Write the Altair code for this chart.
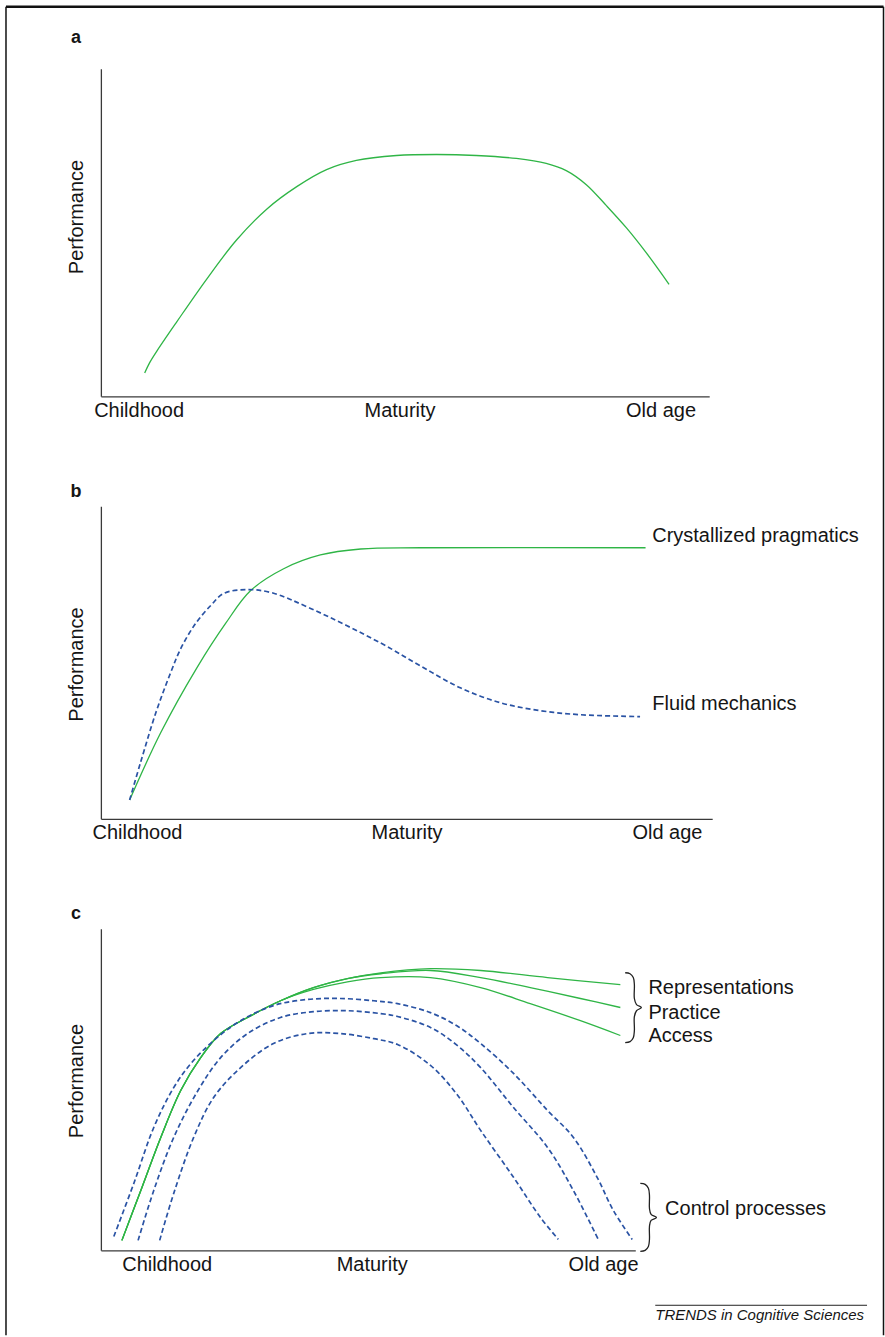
import altair as alt
import pandas as pd

FONT = "Liberation Sans"
GREEN = "#2fb546"
BLUE = "#2a53a4"
INK = "#151515"

# ---------------- Panel a ----------------
a_age = [7.2, 8.0, 9.2, 12.5, 17.4, 22.3, 27.3, 32.2, 37.1, 42.0, 48.6, 55.2, 61.7,
         68.3, 73.2, 76.5, 79.8, 83.1, 86.4, 89.7, 93.4]
a_perf = [7.1, 10.2, 13.8, 22.8, 35.8, 47.7, 57.2, 64.0, 69.2, 72.0, 73.5, 73.8, 73.5,
          72.6, 71.1, 68.9, 64.6, 58.2, 51.4, 43.7, 34.2]
a_ticks = [6.2, 49.1, 92.0]

# ---------------- Panel b ----------------
b_crys_age = [4.7, 9.8, 15.7, 20.4, 24.5, 29.9, 35.9, 42.5, 52.3, 89.1]
b_crys_perf = [6.0, 27.6, 48.3, 62.5, 73.0, 80.0, 84.4, 86.3, 86.7, 86.7]
b_fluid_age = [4.7, 6.5, 9.0, 11.4, 13.1, 15.5, 18.0, 20.1, 23.7, 27.8, 34.3,
               45.8, 52.3, 58.8, 65.4, 71.9, 78.4, 88.2]
b_fluid_perf = [6.0, 18.1, 34.0, 46.7, 54.6, 62.5, 68.3, 72.1, 73.3, 72.4, 67.3,
                56.2, 48.9, 41.9, 37.1, 34.6, 33.3, 32.7]
b_ticks = [5.9, 50.0, 92.6]
b_label_text = ["Crystallized pragmatics", "Fluid mechanics"]
b_label_age = [90.2, 90.2]
b_label_perf = [90.5, 36.8]

# ---------------- Panel c ----------------
c_rep_age = [3.9, 7.4, 11.1, 14.8, 18.5, 22.2, 27.2, 33.3, 39.4, 45.7, 51.9, 61.1,
             70.4, 82.8, 96.3]
c_rep_perf = [3.1, 18.6, 35.1, 49.7, 59.9, 67.4, 72.4, 77.6, 81.7, 84.5, 86.3, 87.6,
              87.0, 84.8, 82.6]
c_pra_age = [3.9, 7.4, 11.1, 14.8, 18.5, 22.2, 27.2, 33.3, 39.4, 45.7, 51.9, 61.1,
             70.4, 79.6, 88.9, 96.3]
c_pra_perf = [3.1, 18.6, 35.1, 49.7, 59.9, 67.4, 72.4, 77.6, 81.7, 84.5, 86.0, 87.0,
              84.8, 81.7, 78.3, 75.5]
c_acc_age = [3.9, 7.4, 11.1, 14.8, 18.5, 22.2, 27.2, 33.3, 39.4, 45.7, 51.9, 61.1,
             70.4, 79.6, 88.9, 96.3]
c_acc_perf = [3.1, 18.6, 35.1, 49.7, 59.9, 67.4, 72.4, 77.6, 81.1, 83.5, 84.8, 84.8,
              81.7, 76.7, 71.4, 66.8]

c_ctl1_age = [2.4, 6.1, 9.8, 13.5, 16.7, 20.9, 25.9, 32.0, 38.3, 44.4, 50.6, 55.0,
              61.1, 66.0, 70.4, 76.5, 82.8, 87.6, 92.0, 95.0, 98.5]
c_ctl1_perf = [4.3, 20.8, 38.2, 50.6, 58.1, 65.2, 71.4, 76.1, 78.0, 78.3, 77.6, 76.7,
               73.9, 69.8, 64.3, 55.0, 43.5, 35.1, 22.7, 12.4, 3.4]
c_ctl2_age = [6.9, 9.8, 13.5, 18.0, 22.2, 27.2, 33.3, 39.4, 45.7, 51.9, 55.0, 61.1,
              66.0, 70.4, 76.5, 82.8, 87.6, 92.2]
c_ctl2_perf = [3.1, 18.6, 35.1, 49.7, 59.9, 67.4, 72.4, 74.2, 74.5, 73.6, 72.7, 69.3,
               63.8, 56.8, 44.4, 32.0, 18.6, 3.4]
c_ctl3_age = [10.9, 13.5, 17.2, 20.9, 25.9, 32.0, 38.3, 44.4, 50.6, 55.0, 61.1, 66.0,
              70.4, 76.5, 81.5, 84.8]
c_ctl3_perf = [3.1, 17.7, 35.1, 47.5, 56.8, 64.3, 67.4, 67.4, 65.8, 64.0, 57.5, 48.5,
               37.3, 22.7, 10.2, 3.4]
c_ticks = [12.2, 50.2, 93.1]
c_label_text = ["Representations", "Practice", "Access", "Control processes"]
c_label_age = [101.5, 101.5, 101.5, 104.6]
c_label_perf = [81.7, 73.9, 66.5, 13.0]

# curly braces (outline points in the panel's data units)
brace1_age = [97.2, 98.1, 98.7, 98.9, 98.9, 99.3, 100.2, 99.3, 98.9, 98.9, 98.7, 98.1, 97.2]
brace1_perf = [86.3, 86.0, 84.8, 82.6, 78.3, 76.4, 75.5, 74.5, 72.7, 68.3, 66.1, 64.9, 64.6]
brace2_age = [100.0, 100.9, 101.5, 101.7, 101.7, 102.0, 103.0, 102.0, 101.7, 101.7, 101.5, 100.9, 100.0]
brace2_perf = [20.8, 20.5, 19.3, 17.1, 13.0, 11.2, 10.2, 9.3, 7.5, 3.4, 1.2, 0.0, -0.3]

LABEL_EXPR = "datum.value < 25 ? 'Childhood' : (datum.value < 75 ? 'Maturity' : 'Old age')"


def series(name, ages, perfs):
    return pd.DataFrame({"age": ages, "perf": perfs, "series": name,
                         "i": list(range(len(ages)))})


def one():
    return pd.DataFrame({"k": [0]})


def panel(width, height, xmax, ticks, greens, blues, labels, braces, letter,
          letter_y, title_y, extra=None):
    X = alt.X("age:Q", scale=alt.Scale(domain=[0, xmax], nice=False, zero=False),
              axis=alt.Axis(values=ticks, labelExpr=LABEL_EXPR, title=None,
                            ticks=False, grid=False, domainColor="#3a3a3a",
                            domainWidth=1.3, labelFont=FONT, labelFontSize=20,
                            labelColor=INK, labelPadding=4, labelOverlap=False,
                            labelFlush=False, labelBound=False))
    Y = alt.Y("perf:Q", scale=alt.Scale(domain=[0, 100], nice=False, zero=False),
              axis=alt.Axis(labels=False, ticks=False, grid=False,
                            title="Performance", titleFont=FONT, titleFontSize=20,
                            titleFontWeight="normal", titleColor=INK,
                            titleAngle=270, titleX=-24, titleY=title_y,
                            titleAlign="center", titleBaseline="middle",
                            domainColor="#3a3a3a", domainWidth=1.3))
    layers = []
    if greens is not None:
        layers.append(alt.Chart(greens).mark_line(
            interpolate="catmull-rom", color=GREEN, strokeWidth=1.3
        ).encode(x=X, y=Y, detail="series:N", order="i:Q"))
    if blues is not None:
        layers.append(alt.Chart(blues).mark_line(
            interpolate="catmull-rom", color=BLUE, strokeWidth=1.7, strokeDash=[5, 3]
        ).encode(x=X, y=Y, detail="series:N", order="i:Q"))
    if labels is not None:
        layers.append(alt.Chart(labels).mark_text(
            align="left", baseline="middle", font=FONT, fontSize=20, color=INK
        ).encode(x=X, y=Y, text="label:N"))
    if braces is not None:
        layers.append(alt.Chart(braces).mark_line(
            interpolate="catmull-rom", color="#222222", strokeWidth=1.3
        ).encode(x=X, y=Y, detail="series:N", order="i:Q"))
    layers.append(alt.Chart(one()).mark_text(
        text=letter, align="center", baseline="alphabetic", font=FONT,
        fontSize=18, fontWeight="bold", color=INK
    ).encode(x=alt.value(-25), y=alt.value(letter_y)))
    if extra:
        layers.extend(extra)
    return alt.layer(*layers).properties(width=width, height=height)


# frame around the whole figure (drawn from panel a)
frame = [
    alt.Chart(one()).mark_rule(color="#111111", strokeWidth=2.5).encode(
        x=alt.value(-95), x2=alt.value(783.5), y=alt.value(-62)),
    alt.Chart(one()).mark_rule(color="#111111", strokeWidth=1.5).encode(
        x=alt.value(-95), y=alt.value(-62), y2=alt.value(1268)),
    alt.Chart(one()).mark_rule(color="#111111", strokeWidth=1.5).encode(
        x=alt.value(783.5), y=alt.value(-62), y2=alt.value(1268)),
]

footer = [
    alt.Chart(one()).mark_rule(color="#222222", strokeWidth=1).encode(
        x=alt.value(555), x2=alt.value(767), y=alt.value(377)),
    alt.Chart(one()).mark_text(
        text="TRENDS in Cognitive Sciences", align="left", baseline="alphabetic",
        font=FONT, fontSize=15, fontStyle="italic", color=INK
    ).encode(x=alt.value(555), y=alt.value(392)),
]

pa = panel(609, 328, 100, a_ticks, series("a", a_age, a_perf), None, None, None,
           "a", -26, 148, frame)

pb_g = series("crys", b_crys_age, b_crys_perf)
pb_b = series("fluid", b_fluid_age, b_fluid_perf)
pb_l = pd.DataFrame({"age": b_label_age, "perf": b_label_perf, "label": b_label_text})
pb = panel(612, 313, 100, b_ticks, pb_g, pb_b, pb_l, None, "b", -9, 158)

pc_g = pd.concat([series("rep", c_rep_age, c_rep_perf),
                  series("pra", c_pra_age, c_pra_perf),
                  series("acc", c_acc_age, c_acc_perf)])
pc_b = pd.concat([series("c1", c_ctl1_age, c_ctl1_perf),
                  series("c2", c_ctl2_age, c_ctl2_perf),
                  series("c3", c_ctl3_age, c_ctl3_perf)])
pc_l = pd.DataFrame({"age": c_label_age, "perf": c_label_perf, "label": c_label_text})
pc_br = pd.concat([series("br1", brace1_age, brace1_perf),
                   series("br2", brace2_age, brace2_perf)])
pc = panel(535, 322, 99.07, c_ticks, pc_g, pc_b, pc_l, pc_br, "c", -10, 152, footer)

chart = alt.vconcat(pa, pb, pc, spacing=110, bounds="flush").properties(
    padding={"left": 4, "top": 4, "right": 0, "bottom": 0},
    background="white",
).configure_view(stroke=None)

chart.save("out.html", embed_options={"renderer": "svg", "actions": False})
